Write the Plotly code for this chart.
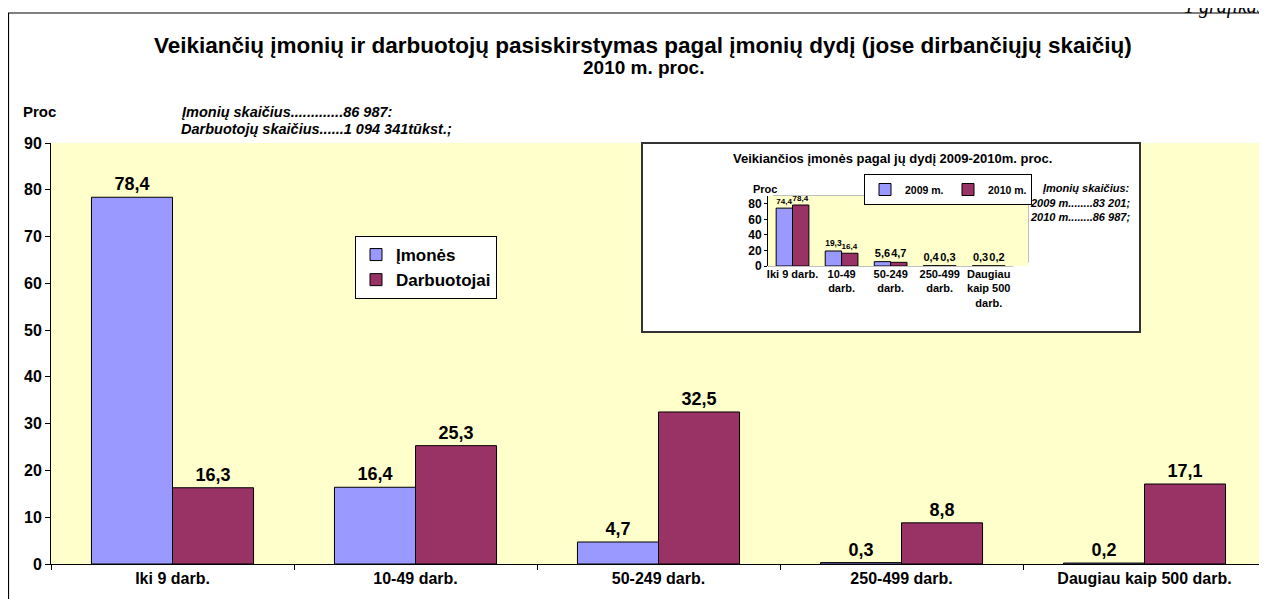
import plotly.graph_objects as go

# ---- data ----
categories = ["Iki 9 darb.", "10-49 darb.", "50-249 darb.", "250-499 darb.", "Daugiau kaip 500 darb."]
imones = [78.4, 16.4, 4.7, 0.3, 0.2]
darbuotojai = [16.3, 25.3, 32.5, 8.8, 17.1]

inset_categories = ["Iki 9 darb.", "10-49<br>darb.", "50-249<br>darb.", "250-499<br>darb.", "Daugiau<br>kaip 500<br>darb."]
inset_2009 = [74.4, 19.3, 5.6, 0.4, 0.3]
inset_2010 = [78.4, 16.4, 4.7, 0.3, 0.2]

BLUE = "#9999FF"
RED = "#993366"
FONT = "Arial, Liberation Sans, sans-serif"

def lt(v):
    return [f"{x:.1f}".replace(".", ",") for x in v]

OFF = 8  # page body margin
W, H = 1267 - OFF, 599 - OFF
L, R, T = 51 - OFF, 1, 143 - OFF
B = H - (564 - OFF)
PW, PH = W - L - R, H - T - B

def px(x):  # page pixel x -> paper fraction
    return (x - OFF - L) / PW

def py(y):  # page pixel y -> paper fraction
    return (H - B - (y - OFF)) / PH

fig = go.Figure()

lab_main = dict(family=FONT, size=18, color="black", weight="bold")
fig.add_trace(go.Bar(
    x=categories, y=imones, name="Įmonės",
    marker=dict(color=BLUE, line=dict(color="black", width=1)),
    text=lt(imones), textposition="outside", textfont=lab_main,
    cliponaxis=False, legend="legend",
))
fig.add_trace(go.Bar(
    x=categories, y=darbuotojai, name="Darbuotojai",
    marker=dict(color=RED, line=dict(color="black", width=1)),
    text=lt(darbuotojai), textposition="outside", textfont=lab_main,
    cliponaxis=False, legend="legend",
))

lab_in = dict(family=FONT, size=11, color="black", weight="bold")
fig.add_trace(go.Bar(
    x=inset_categories, y=inset_2009, name="2009 m.",
    marker=dict(color=BLUE, line=dict(color="black", width=1)),
    text=lt(inset_2009), textposition="outside", textfont=lab_in,
    cliponaxis=False, xaxis="x2", yaxis="y2", legend="legend2",
))
fig.add_trace(go.Bar(
    x=inset_categories, y=inset_2010, name="2010 m.",
    marker=dict(color=RED, line=dict(color="black", width=1)),
    text=lt(inset_2010), textposition="outside", textfont=lab_in,
    cliponaxis=False, xaxis="x2", yaxis="y2", legend="legend2",
))

fig.update_layout(
    width=W, height=H,
    margin=dict(l=L, r=R, t=T, b=B),
    paper_bgcolor="white",
    plot_bgcolor="#FFFFCC",
    barmode="group", bargap=0.333, bargroupgap=0,
    hovermode=False,
    font=dict(family=FONT, color="black"),
    xaxis=dict(
        domain=[0, 1], showline=True, linecolor="black", linewidth=1,
        ticks="outside", ticklen=5, tickcolor="black", tickson="boundaries",
        tickfont=dict(family=FONT, size=16, color="black", weight="bold"),
        showgrid=False,
    ),
    yaxis=dict(
        range=[0, 90], dtick=10, showline=True, linecolor="black", linewidth=1,
        ticks="outside", ticklen=5, tickcolor="black",
        tickfont=dict(family=FONT, size=16, color="black", weight="bold"),
        showgrid=False, zeroline=False,
    ),
    xaxis2=dict(
        domain=[px(768), px(1028)], anchor="y2", range=[-0.5, 4.8],
        showline=False, showgrid=False,
        tickfont=dict(family=FONT, size=11, color="black", weight="bold"),
        ticks="",
    ),
    yaxis2=dict(
        domain=[py(266), py(196)], anchor="x2", range=[0, 90],
        tickvals=[0, 20, 40, 60, 80], showline=True, linecolor="black",
        linewidth=1, showgrid=False, zeroline=False, ticks="outside",
        ticklen=3, tickcolor="black",
        tickfont=dict(family=FONT, size=12, color="black", weight="bold"),
    ),
    legend=dict(
        x=px(355), y=py(236), xanchor="left", yanchor="top",
        bgcolor="white", bordercolor="black", borderwidth=1,
        font=dict(family=FONT, size=17, color="black", weight="bold"),
        traceorder="normal", itemwidth=30,
    ),
    legend2=dict(
        x=px(864), y=py(174), xanchor="left", yanchor="top",
        orientation="h", bgcolor="white", bordercolor="black", borderwidth=1,
        font=dict(family=FONT, size=10.5, color="black", weight="bold"),
        itemwidth=30, entrywidth=38, tracegroupgap=0,
    ),
)

shapes = [
    # outer chart border
    dict(type="rect", xref="paper", yref="paper", x0=px(8.5), x1=px(1300), y0=py(13), y1=py(640),
         line=dict(color="black", width=1.2), fillcolor="rgba(0,0,0,0)", layer="below"),
    # inset box
    dict(type="rect", xref="paper", yref="paper", x0=px(642), x1=px(1140), y0=py(332), y1=py(143),
         line=dict(color="#333333", width=2), fillcolor="white", layer="below"),
    # inset back wall
    dict(type="rect", xref="x2 domain", yref="y2 domain", x0=0.02, x1=1, y0=0.05, y1=1,
         line=dict(color="black", width=0.5), fillcolor="#CCFFFF", layer="below"),
    # inset floor
    dict(type="path", xref="x2 domain", yref="y2 domain",
         path="M 0,0 L 0.94,0 L 1.0,0.07 L 0.06,0.07 Z",
         line=dict(color="black", width=0.5), fillcolor="#CCCCFF", layer="below"),
]
fig.update_layout(shapes=shapes)

ann = [
    dict(text="<b>Veikiančių įmonių ir darbuotojų pasiskirstymas pagal įmonių dydį (jose dirbančiųjų skaičių)</b>",
         x=px(643), y=py(46), font=dict(family=FONT, size=22.5, color="black"), showarrow=False,
         xanchor="center", yanchor="middle"),
    dict(text="<b>2010 m. proc.</b>",
         x=px(643), y=py(67), font=dict(family=FONT, size=19, color="black"), showarrow=False,
         xanchor="center", yanchor="middle"),
    dict(text="<b>Proc</b>", x=px(21), y=py(112), xanchor="left", yanchor="middle",
         font=dict(family=FONT, size=15, color="black"), showarrow=False),
    dict(text="<b><i>Įmonių skaičius.............86 987:</i></b>", x=px(179), y=py(112),
         xanchor="left", yanchor="middle", font=dict(family=FONT, size=14.5, color="black"), showarrow=False),
    dict(text="<b><i>Darbuotojų skaičius......1 094 341tūkst.;</i></b>", x=px(179), y=py(129),
         xanchor="left", yanchor="middle", font=dict(family=FONT, size=14.5, color="black"), showarrow=False),
    dict(text="<i>1 grafikas</i>", x=px(1182), y=py(6), xanchor="left", yanchor="middle",
         font=dict(family="Liberation Serif, Times New Roman, serif", size=20, color="black"), showarrow=False),
    # inset texts
    dict(text="<b>Veikiančios įmonės pagal jų dydį 2009-2010m. proc.</b>", x=px(892), y=py(158),
         xanchor="center", yanchor="middle", font=dict(family=FONT, size=13, color="black"), showarrow=False),
    dict(text="<b>Proc</b>", x=px(765), y=py(189), xanchor="center", yanchor="middle",
         font=dict(family=FONT, size=11, color="black"), showarrow=False),
    dict(text="<b><i>Įmonių skaičius:</i></b>", x=px(1132), y=py(188), xanchor="right", yanchor="middle",
         font=dict(family=FONT, size=11, color="black"), showarrow=False),
    dict(text="<b><i>2009 m........83 201;</i></b>", x=px(1132), y=py(203), xanchor="right", yanchor="middle",
         font=dict(family=FONT, size=11, color="black"), showarrow=False),
    dict(text="<b><i>2010 m........86 987;</i></b>", x=px(1132), y=py(217), xanchor="right", yanchor="middle",
         font=dict(family=FONT, size=11, color="black"), showarrow=False),
]
for a in ann:
    a.update(xref="paper", yref="paper")
fig.update_layout(annotations=ann)

fig.write_html("out.html")
